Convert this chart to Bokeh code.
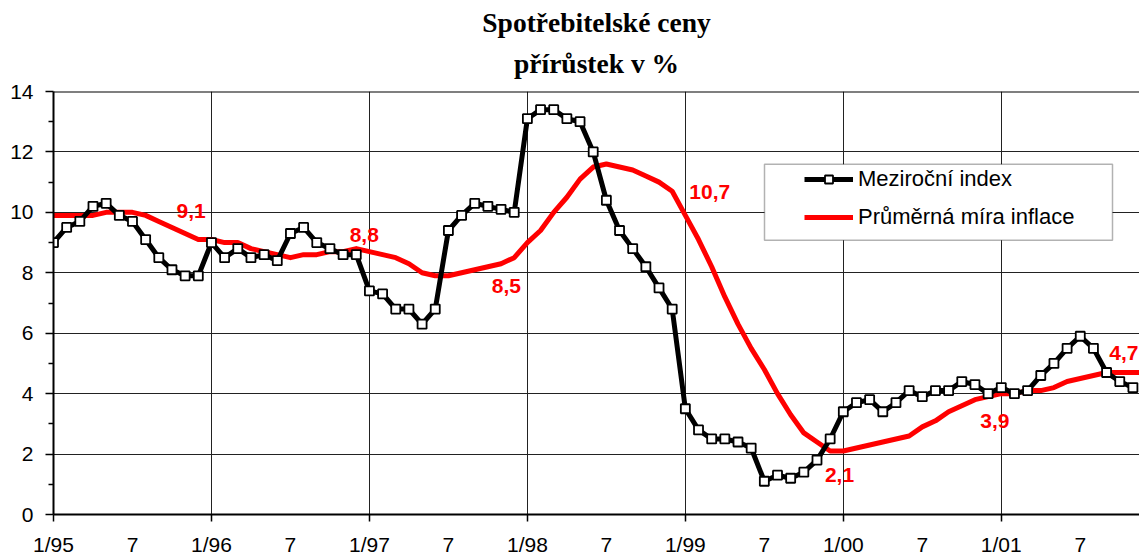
from bokeh.plotting import figure
from bokeh.models import (Range1d, FixedTicker, Title, Legend, LegendItem,
                          BoxAnnotation, Span)
from bokeh.core.properties import value
from bokeh.embed import file_html
from bokeh.resources import INLINE

# ---------------- data ----------------
title_lines = ["Spotřebitelské ceny", "přírůstek v %"]

years = ["95", "96", "97", "98", "99", "00", "01"]
tick_labels = []
for yy in years:
    tick_labels += ["1/" + yy, "7"]
tick_months = list(range(0, 6 * len(tick_labels), 6))

# Meziroční index (y/y CPI change, %), 1/95 .. 11/01
mezirocni = [
    9.0, 9.5, 9.7, 10.2, 10.3, 9.9, 9.7, 9.1, 8.5, 8.1, 7.9, 7.9,      # 1995
    9.0, 8.5, 8.8, 8.5, 8.6, 8.4, 9.3, 9.5, 9.0, 8.8, 8.6, 8.6,        # 1996
    7.4, 7.3, 6.8, 6.8, 6.3, 6.8, 9.4, 9.9, 10.3, 10.2, 10.1, 10.0,    # 1997
    13.1, 13.4, 13.4, 13.1, 13.0, 12.0, 10.4, 9.4, 8.8, 8.2, 7.5, 6.8, # 1998
    3.5, 2.8, 2.5, 2.5, 2.4, 2.2, 1.1, 1.3, 1.2, 1.4, 1.8, 2.5,        # 1999
    3.4, 3.7, 3.8, 3.4, 3.7, 4.1, 3.9, 4.1, 4.1, 4.4, 4.3, 4.0,        # 2000
    4.2, 4.0, 4.1, 4.6, 5.0, 5.5, 5.9, 5.5, 4.7, 4.4, 4.2,             # 2001
]

# Průměrná míra inflace (12-month average, %), 1/95 .. 12/01
prumerna = [
    9.9, 9.9, 9.9, 9.9, 10.0, 10.0, 10.0, 9.9, 9.7, 9.5, 9.3, 9.1,     # 1995
    9.1, 9.0, 9.0, 8.8, 8.7, 8.6, 8.5, 8.6, 8.6, 8.7, 8.7, 8.8,        # 1996
    8.7, 8.6, 8.5, 8.3, 8.0, 7.9, 7.9, 8.0, 8.1, 8.2, 8.3, 8.5,        # 1997
    9.0, 9.4, 10.0, 10.5, 11.1, 11.5, 11.6, 11.5, 11.4, 11.2, 11.0, 10.7,  # 1998
    9.9, 9.1, 8.2, 7.2, 6.3, 5.5, 4.8, 4.0, 3.3, 2.7, 2.4, 2.1,        # 1999
    2.1, 2.2, 2.3, 2.4, 2.5, 2.6, 2.9, 3.1, 3.4, 3.6, 3.8, 3.9,        # 2000
    4.0, 4.0, 4.1, 4.1, 4.2, 4.4, 4.5, 4.6, 4.7, 4.7, 4.7, 4.7,        # 2001
]

months_m = list(range(len(mezirocni)))
months_p = list(range(len(prumerna)))

# data labels (annual average values) and their anchor positions
label_texts = ["9,1", "8,8", "8,5", "10,7", "2,1", "3,9", "4,7"]
label_x = [9.35, 22.5, 33.3, 48.3, 58.6, 70.4, 80.2]
label_y = [10.05, 9.26, 7.56, 10.67, 1.32, 3.09, 5.36]

# ---------------- figure ----------------
LEFT, TOP, BOTTOM = 53, 91, 515
W, H = 1139, 558
X_END = 82.5
FRAME_W = W - LEFT
FRAME_H = BOTTOM - TOP
ppm = FRAME_W / X_END
ppu = FRAME_H / 14.0

p = figure(width=W, height=H, x_range=Range1d(0, X_END), y_range=Range1d(0, 14),
           output_backend="svg", toolbar_location=None, title=None,
           min_border_left=LEFT, min_border_right=0, min_border_top=TOP,
           min_border_bottom=H - BOTTOM)
p.outline_line_color = None
p.background_fill_color = "white"
p.border_fill_color = "white"

# two title lines; the one added later sits further from the frame
for txt, so in zip(reversed(title_lines), (26, -11)):
    p.add_layout(Title(text=txt, align="center", text_font="Liberation Serif",
                       text_font_size="27.5px", text_font_style="bold",
                       text_color="black", standoff=so), "above")

# x axis
xa = p.xaxis[0]
xa.ticker = FixedTicker(ticks=tick_months, minor_ticks=list(range(0, 84, 12)))
xa.major_label_overrides = {m: l for m, l in zip(tick_months, tick_labels)}
xa.major_tick_out = 0
xa.major_tick_in = 0
xa.minor_tick_out = 7
xa.minor_tick_in = 0
xa.minor_tick_line_color = "black"
xa.minor_tick_line_width = 1.5
xa.axis_line_color = "black"
xa.axis_line_width = 2
xa.major_label_text_font = "Liberation Sans"
xa.major_label_text_font_size = "21px"
xa.major_label_text_color = "black"
xa.major_label_standoff = 11

# y axis
ya = p.yaxis[0]
ya.ticker = FixedTicker(ticks=list(range(0, 15, 2)), minor_ticks=list(range(1, 14, 2)))
ya.major_tick_out = 8
ya.major_tick_in = 0
ya.minor_tick_out = 5
ya.minor_tick_in = 0
ya.major_tick_line_color = "black"
ya.minor_tick_line_color = "black"
ya.major_tick_line_width = 1.5
ya.minor_tick_line_width = 1.5
ya.axis_line_color = "black"
ya.axis_line_width = 2
ya.major_label_text_font = "Liberation Sans"
ya.major_label_text_font_size = "21px"
ya.major_label_text_color = "black"
ya.major_label_standoff = 12

# grids
p.xgrid.ticker = FixedTicker(ticks=list(range(12, 84, 12)))
p.ygrid.ticker = FixedTicker(ticks=list(range(2, 14, 2)))
for g in (p.xgrid, p.ygrid):
    g.grid_line_color = "#222222"
    g.grid_line_width = 1

p.add_layout(Span(location=14, dimension="width", line_color="black", line_width=2))

# series
r_red = p.line(months_p, prumerna, line_color="#FF0000", line_width=5, line_join="round")
r_blk = p.line(months_m, mezirocni, line_color="black", line_width=5, line_join="round")
r_sq = p.scatter(months_m, mezirocni, marker="square", size=9, fill_color="white",
                 line_color="black", line_width=1.8)

p.text(x=label_x, y=label_y, text=label_texts, text_color="#FF0000",
       text_font=value("Liberation Sans"), text_font_style="bold",
       text_font_size="21px", text_align="left", text_baseline="middle")

# legend box
box = BoxAnnotation(left=(764 - LEFT) / ppm, right=(1112 - LEFT) / ppm,
                    top=(BOTTOM - 164) / ppu, bottom=(BOTTOM - 240) / ppu,
                    fill_color="white", fill_alpha=1.0, line_color="black", line_width=1.5)
p.add_layout(box)

legend = Legend(items=[LegendItem(label="Meziroční index", renderers=[r_blk, r_sq]),
                       LegendItem(label="Průměrná míra inflace", renderers=[r_red])],
                location=(794 - LEFT, 274), padding=10, spacing=12, margin=0,
                glyph_width=49, glyph_height=20, label_standoff=5,
                label_text_font="Liberation Sans", label_text_font_size="22px",
                label_text_color="black",
                border_line_alpha=0, background_fill_alpha=0)
p.add_layout(legend)

open("out.html", "w").write(file_html(p, INLINE))
